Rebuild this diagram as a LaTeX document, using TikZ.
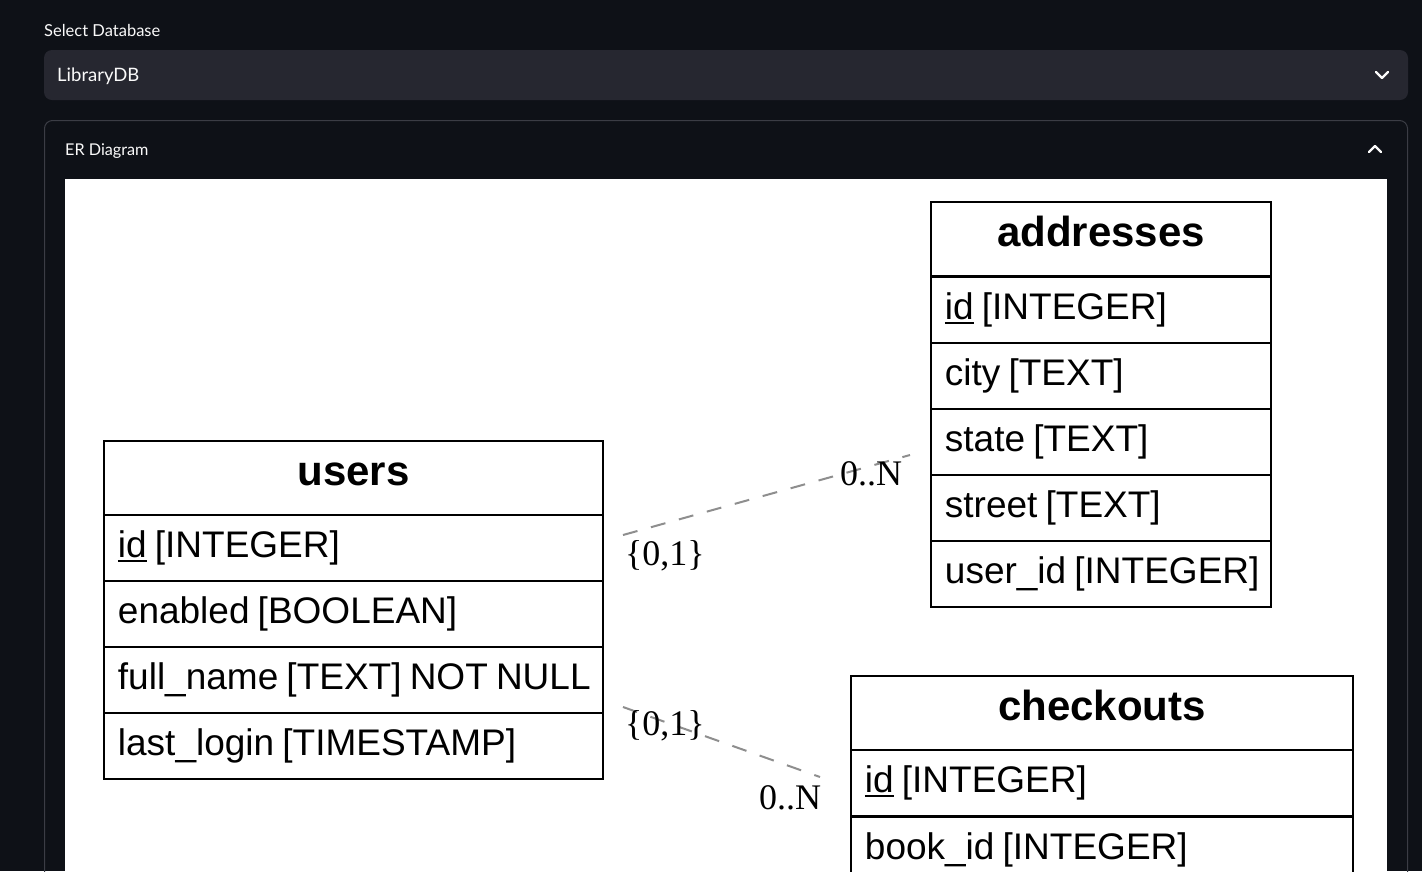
\documentclass[tikz,border=0pt]{standalone}
\usepackage{fontspec}
\setmainfont{Lato}
\newfontfamily\erfont{Liberation Sans}
\newfontfamily\lblfont{Liberation Serif}
\definecolor{pagebg}{HTML}{0E1117}
\definecolor{selbg}{HTML}{262730}
\definecolor{expborder}{HTML}{3B3D45}
\definecolor{uitext}{HTML}{FAFAFA}
\definecolor{relgray}{HTML}{8E8E8E}
\newcommand\pkid{\setbox0\hbox{id}\rlap{\rule[-4.5pt]{\wd0}{2pt}}\box0}
\tikzset{
  uilabel/.style={anchor=west, inner sep=0pt, text=uitext},
  chev/.style={draw=uitext, line width=2.4pt, line cap=round, line join=round},
  cell/.style={draw=black, line width=1.9pt, rectangle, anchor=north west, inner sep=0pt,
    inner xsep=14pt, text height=27pt, text depth=8pt, align=left,
    font=\erfont\fontsize{37}{41}\selectfont, minimum height=66pt,
    execute at begin node={\spaceskip=0.22em\relax}},
  headcell/.style={cell, align=center, minimum height=74pt, text height=23pt,
    font=\erfont\bfseries\fontsize{42}{46}\selectfont},
  card/.style={anchor=base west, inner sep=0pt, font=\lblfont\fontsize{36}{38}\selectfont},
  rel/.style={draw=relgray, line width=2pt, dash pattern=on 15pt off 14pt},
}
\begin{document}
\begin{tikzpicture}[x=1pt,y=-1pt]
\useasboundingbox (0,0) rectangle (1422,871);
\fill[pagebg] (0,0) rectangle (1422,871);
% top UI
\node[uilabel, font=\fontsize{16.5}{19}\selectfont] (sellabel) at (44,30) {Select Database};
\fill[selbg, rounded corners=8pt] (44,50) rectangle (1408,100);
\node[uilabel, font=\fontsize{18.5}{22}\selectfont] (selvalue) at (57,76) {LibraryDB};
\draw[chev] (1376,72) -- (1382,78) -- (1388,72);
\draw[expborder, line width=1pt, rounded corners=8pt] (44.5,920) -- (44.5,120.5) -- (1407.5,120.5) -- (1407.5,920);
\node[uilabel, font=\fontsize{16.2}{19}\selectfont] (explabel) at (65,151) {ER Diagram};
\draw[chev] (1369,152) -- (1375,146) -- (1381,152);
\fill[white] (65,179) rectangle (1387,900);
% users
\node[headcell, text width=471pt] (users) at (103,440) {users};
\node[cell, text width=471pt] (users-id) at (103,514) {\mbox{\pkid{} [INTEGER]}};
\node[cell, text width=471pt] (users-en) at (103,580) {\mbox{enabled [BOOLEAN]}};
\node[cell, text width=471pt] (users-fn) at (103,646) {\mbox{full\_name [TEXT] NOT NULL}};
\node[cell, text width=471pt] (users-ll) at (103,712) {\mbox{last\_login [TIMESTAMP]}};
% addresses
\node[headcell, text width=312pt] (addresses) at (930,201) {addresses};
\node[cell, text width=312pt] (addr-id) at (930,276) {\mbox{\pkid{} [INTEGER]}};
\node[cell, text width=312pt] (addr-city) at (930,342) {\mbox{city [TEXT]}};
\node[cell, text width=312pt] (addr-state) at (930,408) {\mbox{state [TEXT]}};
\node[cell, text width=312pt] (addr-street) at (930,474) {\mbox{street [TEXT]}};
\node[cell, text width=312pt] (addr-uid) at (930,540) {\mbox{user\_id [INTEGER]}};
% checkouts
\node[headcell, text width=474pt] (checkouts) at (850,675) {checkouts};
\node[cell, text width=474pt] (co-id) at (850,749) {\mbox{\pkid{} [INTEGER]}};
\node[cell, text width=474pt] (co-book) at (850,816) {\mbox{book\_id [INTEGER]}};
% relationships
\coordinate (ua1) at (623,535);
\coordinate (ua2) at (910,455);
\coordinate (uc1) at (623,707);
\coordinate (uc2) at (820,777);
\draw[rel] (ua1) -- (ua2);
\draw[rel] (uc1) -- (uc2);
\node[card] (ua-from) at (625,565) {\{0,1\}};
\node[card] (ua-to) at (840,485) {0..N};
\node[card] (uc-from) at (625,735) {\{0,1\}};
\node[card] (uc-to) at (759,809) {0..N};
\end{tikzpicture}
\end{document}
